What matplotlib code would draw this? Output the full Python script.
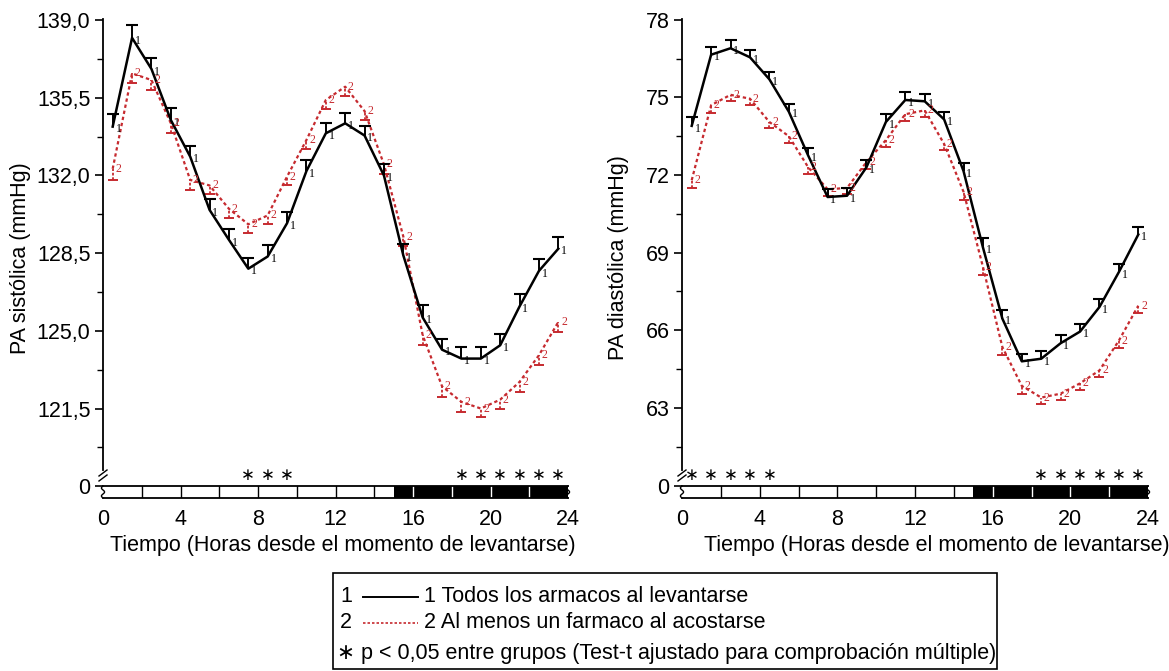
import numpy as np
import matplotlib.pyplot as plt
from matplotlib.lines import Line2D
from matplotlib.patches import Rectangle
from matplotlib.ticker import AutoMinorLocator, FuncFormatter

plt.rcParams['font.family'] = ['Liberation Sans', 'DejaVu Sans']

# medias horarias
hours = [0.5, 1.5, 2.5, 3.5, 4.5, 5.5, 6.5, 7.5, 8.5, 9.5, 10.5, 11.5,
         12.5, 13.5, 14.5, 15.5, 16.5, 17.5, 18.5, 19.5, 20.5, 21.5, 22.5, 23.5]

sys_g1 = [134.2, 138.2, 136.8, 134.5, 132.85, 130.45, 129.1, 127.8, 128.35, 129.85, 132.2, 133.9,
          134.35, 133.8, 132.0, 128.4, 125.6, 124.15, 123.75, 123.75, 124.35, 126.1, 127.7, 128.7]
sys_g2 = [132.3, 136.6, 136.3, 134.35, 131.8, 131.55, 130.5, 129.8, 130.2, 131.95, 133.6, 135.4,
          136.0, 134.9, 132.5, 129.25, 124.8, 122.5, 121.8, 121.5, 121.9, 122.7, 123.9, 125.4]
# error estandar (barra hacia arriba grupo 1, hacia abajo grupo 2)
sys_se1 = [0.55, 0.6, 0.5, 0.55, 0.5, 0.5, 0.5, 0.5, 0.5, 0.5, 0.5, 0.45,
           0.45, 0.45, 0.5, 0.5, 0.55, 0.5, 0.5, 0.5, 0.5, 0.55, 0.55, 0.55]
sys_se2 = [0.5, 0.45, 0.45, 0.45, 0.45, 0.4, 0.4, 0.4, 0.4, 0.4, 0.4, 0.4,
           0.4, 0.4, 0.45, 0.45, 0.45, 0.5, 0.45, 0.4, 0.4, 0.45, 0.45, 0.45]

dia_g1 = [73.9, 76.65, 76.9, 76.55, 75.7, 74.45, 72.75, 71.15, 71.2, 72.3, 74.05, 74.9,
          74.85, 74.15, 72.15, 69.2, 66.45, 64.8, 64.9, 65.5, 65.95, 66.9, 68.25, 69.7]
dia_g2 = [71.8, 74.7, 75.1, 74.95, 74.05, 73.5, 72.3, 71.45, 71.5, 72.5, 73.35, 74.35,
          74.5, 73.2, 71.35, 68.45, 65.35, 63.85, 63.4, 63.55, 63.95, 64.45, 65.6, 66.95]
dia_se1 = [0.35, 0.3, 0.3, 0.3, 0.3, 0.3, 0.3, 0.3, 0.3, 0.3, 0.3, 0.3,
           0.3, 0.3, 0.3, 0.35, 0.35, 0.3, 0.3, 0.3, 0.3, 0.3, 0.3, 0.3]
dia_se2 = [0.3, 0.3, 0.25, 0.25, 0.25, 0.25, 0.25, 0.25, 0.25, 0.25, 0.25, 0.25,
           0.25, 0.25, 0.3, 0.3, 0.3, 0.3, 0.25, 0.25, 0.25, 0.25, 0.3, 0.3]

sys_sig = [7.5, 8.5, 9.5, 18.5, 19.5, 20.5, 21.5, 22.5, 23.5]
dia_sig = [0.5, 1.5, 2.5, 3.5, 4.5, 18.5, 19.5, 20.5, 21.5, 22.5, 23.5]

sys_ticks = [121.5, 125.0, 128.5, 132.0, 135.5, 139.0]
dia_ticks = [63, 66, 69, 72, 75, 78]
x_ticks = [0, 4, 8, 12, 16, 20, 24]

sleep_start = 15
bar_marks = [2, 4, 6, 8, 10, 12, 14, 16, 18, 20, 22]

RED = '#c62a2f'
FS = 15.5
W, H = 1169, 671
fig = plt.figure(figsize=(W / 100, H / 100), dpi=100)


def box(l, t, r, b):
    return fig.add_axes([l / W, 1 - b / H, (r - l) / W, (b - t) / H])


def fig_line(xs, ys, **kw):
    fig.add_artist(Line2D([x / W for x in xs], [1 - y / H for y in ys],
                          transform=fig.transFigure, **kw))


def panel(x0, x1, v1, v2, e1, e2, ticks, ylim, fmt, ylabel, sig, lab_x, xlab_dx):
    ax = box(x0, 19, x1, 470)
    bar = box(x0, 486, x1, 498)
    v1 = np.array(v1)
    v2 = np.array(v2)
    top1 = v1 + np.array(e1)
    bot2 = v2 - np.array(e2)

    # grupo 1: linea continua, barra de error hacia arriba
    ax.plot(hours, v1, color='black', lw=1.8, zorder=3)
    ax.vlines(hours, v1, top1, color='black', lw=1.4, zorder=3)
    ax.plot(hours, top1, ls='none', marker='_', ms=8, mew=1.5, color='black', zorder=3)
    # grupo 2: linea punteada, barra de error hacia abajo
    ax.plot(hours, v2, color=RED, lw=1.6, ls=(0, (1.5, 1.3)), zorder=2)
    ax.vlines(hours, bot2, v2, color=RED, lw=1.3, linestyles=(0, (1.5, 1)), zorder=2)
    ax.plot(hours, bot2, ls='none', marker='_', ms=7, mew=1.4, color=RED, zorder=2)
    for h, v in zip(hours, v1):
        ax.annotate('1', (h, v), xytext=(2, -2), textcoords='offset points',
                    fontsize=8.5, family='Liberation Serif', ha='left', va='center')
    for h, v in zip(hours, v2):
        ax.annotate('2', (h, v), xytext=(2, 0), textcoords='offset points',
                    fontsize=8.5, family='Liberation Serif', ha='left', va='center', color=RED)

    ax.set_xlim(0, 24)
    ax.set_ylim(*ylim)
    for s in ['top', 'right', 'bottom']:
        ax.spines[s].set_visible(False)
    ax.spines['left'].set_linewidth(1.3)
    ax.set_xticks([])
    ax.set_yticks(ticks)
    ax.yaxis.set_major_formatter(FuncFormatter(fmt))
    ax.yaxis.set_minor_locator(AutoMinorLocator(2))
    ax.tick_params(axis='y', which='major', length=6, width=1.2, labelsize=FS, pad=3)
    ax.tick_params(axis='y', which='minor', length=4, width=1.0)
    ax.set_ylabel(ylabel, fontsize=FS)
    ax.yaxis.set_label_coords(lab_x, 0.47)

    # marca de corte del eje
    for dy in [0, 5]:
        fig_line([x0 - 4, x0 + 4], [476 + dy, 470 + dy], color='black', lw=1.0)

    # barra dia / noche
    bar.set_xlim(0, 24)
    bar.set_ylim(-1, 0)
    bar.add_patch(Rectangle((0, -1), sleep_start, 1, facecolor='white', edgecolor='none'))
    bar.add_patch(Rectangle((sleep_start, -1), 24 - sleep_start, 1, facecolor='black', edgecolor='none'))
    for h in bar_marks:
        bar.plot([h, h], [-1, 0], color='black' if h < sleep_start else 'white', lw=1.0)
    bar.plot([0, 24], [0, 0], color='black', lw=1.3, clip_on=False)
    bar.plot([0, 24], [-1, -1], color='black', lw=1.3, clip_on=False)
    t = np.linspace(-1, 0, 40)
    wave = 0.08 * np.sin(t * 2 * np.pi * 1.5)
    bar.plot(0 + wave, t, color='black', lw=1.0, clip_on=False)
    bar.plot(24 + wave, t, color='black', lw=1.0, clip_on=False)
    for s in bar.spines.values():
        s.set_visible(False)
    bar.set_yticks([0])
    bar.set_yticklabels(['0'])
    bar.set_xticks(x_ticks)
    bar.set_xticklabels([str(x) for x in x_ticks])
    bar.tick_params(axis='y', length=6, width=1.2, labelsize=FS, pad=3)
    bar.tick_params(axis='x', length=0, labelsize=FS, pad=8)
    for h in sig:
        bar.text(h, 0.85, '\u2217', ha='center', va='center', fontsize=12)

    fig.text(((x0 + x1) / 2 + xlab_dx) / W, 1 - 545 / H,
             'Tiempo (Horas desde el momento de levantarse)',
             ha='center', va='center', fontsize=FS)


panel(103, 568, sys_g1, sys_g2, sys_se1, sys_se2, sys_ticks, (118.73, 139.05),
      lambda v, p: f'{v:.1f}'.replace('.', ','), 'PA sistólica (mmHg)', sys_sig, -0.155, 7)
panel(682, 1148, dia_g1, dia_g2, dia_se1, dia_se2, dia_ticks, (60.6, 78.03),
      lambda v, p: f'{v:.0f}', 'PA diastólica (mmHg)', dia_sig, -0.114, 22)

# leyenda
fig.add_artist(Rectangle((333 / W, 1 - 669 / H), (997 - 333) / W, (669 - 573) / H,
                         transform=fig.transFigure, fill=False, edgecolor='black', lw=1.2))
fig.text(340 / W, 1 - 597 / H, '1', ha='left', va='center', fontsize=FS)
fig_line([363, 418], [597, 597], color='black', lw=1.4)
fig.text(424 / W, 1 - 597 / H, '1 Todos los armacos al levantarse', ha='left', va='center', fontsize=FS)
fig.text(340 / W, 1 - 623 / H, '2', ha='left', va='center', fontsize=FS)
fig_line([363, 418], [623, 623], color=RED, lw=1.2, ls=(0, (1.5, 1.2)))
fig.text(424 / W, 1 - 623 / H, '2 Al menos un farmaco al acostarse', ha='left', va='center', fontsize=FS)
fig.text(337 / W, 1 - 653 / H, '\u2217 p < 0,05 entre grupos (Test-t ajustado para comprobación múltiple)',
         ha='left', va='center', fontsize=FS)

fig.savefig('out.png', dpi=100)
